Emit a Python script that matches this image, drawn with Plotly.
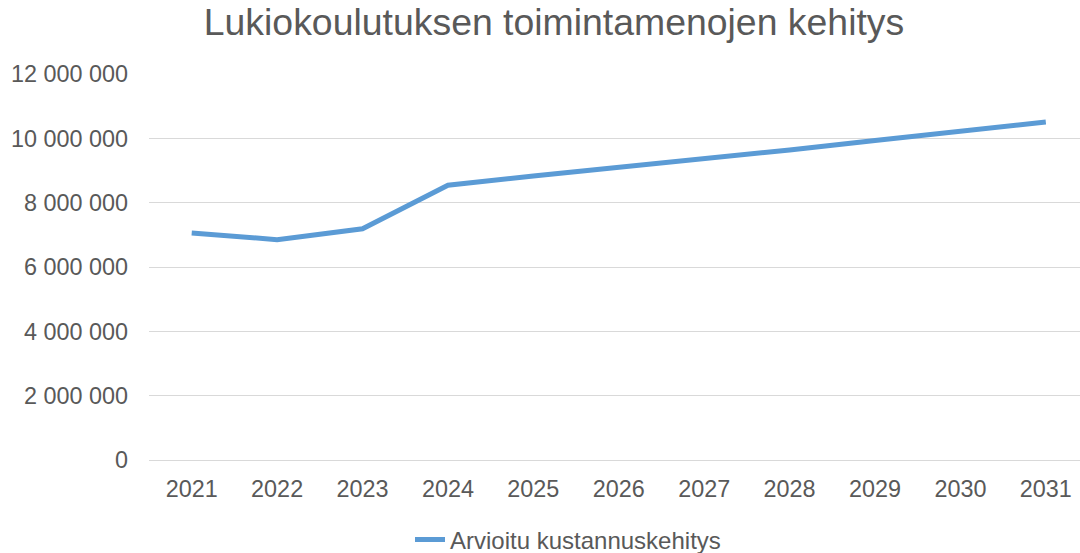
import plotly.graph_objects as go

# Vuodet ja arvioidut toimintamenot (euroa)
years = ["2021", "2022", "2023", "2024", "2025", "2026", "2027", "2028", "2029", "2030", "2031"]
costs = [7060000, 6850000, 7190000, 8540000, 8830000, 9090000, 9370000, 9640000, 9930000, 10220000, 10510000]
series_name = "Arvioitu kustannuskehitys"
chart_title = "Lukiokoulutuksen toimintamenojen kehitys"
y_ticks = [0, 2000000, 4000000, 6000000, 8000000, 10000000, 12000000]

FONT = "Liberation Sans, Arial, sans-serif"
TEXT = "#595959"
GRID = "#D9D9D9"

fig = go.Figure()
fig.add_trace(go.Scatter(
    x=years, y=costs, mode="lines", name=series_name,
    line=dict(color="#5B9BD5", width=5),
))

fig.update_layout(
    width=1080, height=553,
    margin=dict(l=149, r=0, t=74, b=93),
    paper_bgcolor="white", plot_bgcolor="white",
    separators=", ",
    font=dict(family=FONT, size=23, color=TEXT),
    title=dict(text=chart_title, x=554 / 1080, xref="container", xanchor="center",
               y=1 - 22 / 553, yref="container", yanchor="middle",
               font=dict(family=FONT, size=37.4, color=TEXT)),
    showlegend=True,
    legend=dict(orientation="h", x=568 / 1080, xref="container", xanchor="center",
                y=1 - 540 / 553, yref="container", yanchor="middle",
                font=dict(family=FONT, size=24, color=TEXT)),
)

fig.update_xaxes(
    type="category", range=[-0.5, 10.4],
    showgrid=False, showline=True, linecolor=GRID, linewidth=1,
    ticks="", ticklabelstandoff=8, tickfont=dict(family=FONT, size=23.4, color=TEXT),
)
fig.update_yaxes(
    range=[0, 12000000], tickvals=y_ticks, tickformat=",d",
    showgrid=True, gridcolor=GRID, gridwidth=1, zeroline=False, showline=False,
    ticks="", ticklabelstandoff=20, tickfont=dict(family=FONT, size=23.4, color=TEXT),
)

fig.write_html("out.html")
